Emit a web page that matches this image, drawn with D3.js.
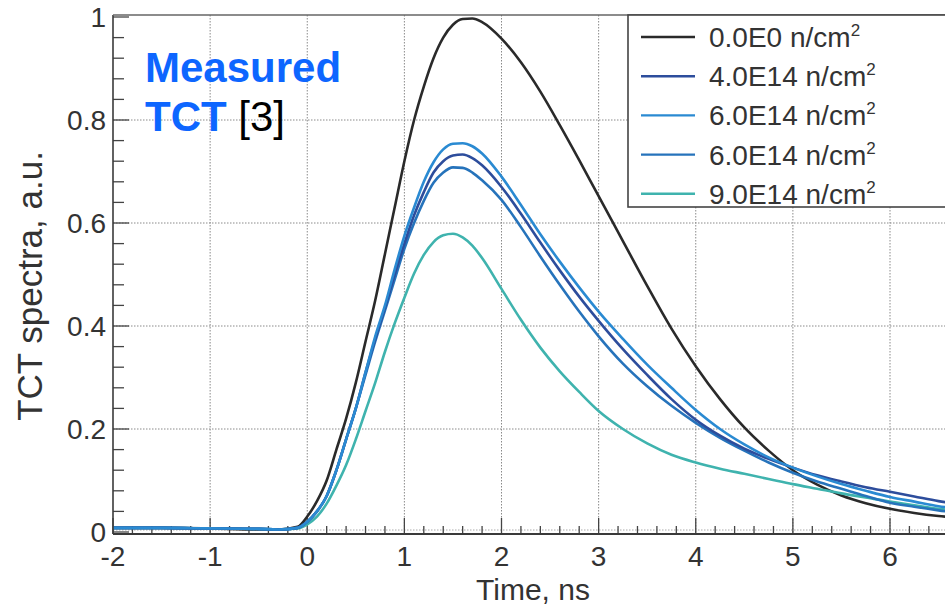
<!DOCTYPE html>
<html>
<head>
<meta charset="utf-8">
<script src="https://cdn.jsdelivr.net/npm/d3@7"></script>
<style>
  body { margin: 0; background: #fff; }
  svg { display: block; font-family: "Liberation Sans", Arial, sans-serif; }
</style>
</head>
<body>
<svg id="chart" width="945" height="606"></svg>
<script>
// time samples (ns)
var time = [-2, -1.5, -1, -0.5, -0.3, -0.1, 0, 0.1, 0.2, 0.3, 0.4, 0.5, 0.6, 0.7, 0.8, 0.9,
  1.0, 1.1, 1.2, 1.3, 1.4, 1.5, 1.6, 1.7, 1.8, 2.0, 2.2, 2.4, 2.6, 2.8, 3.0, 3.25, 3.5, 3.75,
  4.0, 4.25, 4.5, 4.75, 5.0, 5.25, 5.5, 5.75, 6.0, 6.25, 6.5, 6.75];

// one value per time sample
var f0 = [0.008, 0.008, 0.007, 0.005, 0.005, 0.01, 0.03, 0.06, 0.1, 0.16, 0.22, 0.29, 0.37, 0.45, 0.54, 0.63,
  0.72, 0.80, 0.865, 0.92, 0.96, 0.985, 0.996, 0.997, 0.99, 0.958, 0.912, 0.855, 0.79, 0.722, 0.652, 0.565, 0.478, 0.395,
  0.322, 0.258, 0.203, 0.158, 0.12, 0.092, 0.071, 0.056, 0.045, 0.037, 0.031, 0.027];
var f4 = [0.008, 0.008, 0.007, 0.006, 0.005, 0.008, 0.02, 0.04, 0.07, 0.12, 0.18, 0.24, 0.31, 0.375, 0.435, 0.5,
  0.56, 0.615, 0.66, 0.698, 0.72, 0.731, 0.733, 0.726, 0.712, 0.67, 0.618, 0.562, 0.508, 0.457, 0.41, 0.355, 0.305, 0.258,
  0.218, 0.187, 0.162, 0.142, 0.125, 0.11, 0.098, 0.087, 0.078, 0.069, 0.06, 0.053];
var f6a = [0.008, 0.008, 0.007, 0.006, 0.005, 0.008, 0.02, 0.04, 0.07, 0.12, 0.18, 0.24, 0.31, 0.38, 0.44, 0.51,
  0.575, 0.63, 0.68, 0.718, 0.743, 0.754, 0.755, 0.749, 0.735, 0.69, 0.635, 0.578, 0.525, 0.475, 0.428, 0.375, 0.325, 0.28,
  0.237, 0.2, 0.17, 0.145, 0.125, 0.108, 0.093, 0.08, 0.068, 0.059, 0.05, 0.044];
var f6b = [0.008, 0.008, 0.007, 0.006, 0.005, 0.008, 0.02, 0.04, 0.07, 0.12, 0.18, 0.24, 0.305, 0.37, 0.43, 0.49,
  0.55, 0.6, 0.643, 0.678, 0.698, 0.708, 0.707, 0.698, 0.683, 0.645, 0.592, 0.535, 0.48, 0.428, 0.38, 0.327, 0.283, 0.245,
  0.212, 0.183, 0.158, 0.135, 0.115, 0.098, 0.084, 0.07, 0.057, 0.049, 0.042, 0.036];
var f9 = [0.008, 0.008, 0.007, 0.006, 0.005, 0.007, 0.015, 0.03, 0.055, 0.09, 0.13, 0.18, 0.235, 0.29, 0.35, 0.405,
  0.455, 0.502, 0.538, 0.563, 0.576, 0.579, 0.572, 0.556, 0.532, 0.472, 0.412, 0.358, 0.312, 0.272, 0.235, 0.2, 0.172, 0.15,
  0.135, 0.123, 0.113, 0.103, 0.093, 0.084, 0.075, 0.067, 0.059, 0.052, 0.045, 0.04];

var labels = ["0.0E0", "4.0E14", "6.0E14", "6.0E14", "9.0E14"];
var colors = ["#2a2a2a", "#2d4d9c", "#2a8ad2", "#2673bb", "#3fb3ae"];
var values = [f0, f4, f6a, f6b, f9];
// draw order: dark curves first, light blue on top like the scan
var drawOrder = [0, 4, 3, 1, 2];

var xTicks = [-2, -1, 0, 1, 2, 3, 4, 5, 6];
var yTicks = [0, 0.2, 0.4, 0.6, 0.8, 1];

var svg = d3.select("#chart");
var mLeft = 113, mTop = 15, mBottom = 534, mRight = 1000;

var x = d3.scaleLinear().domain([-2, 6]).range([mLeft, 890]);
var y = d3.scaleLinear().domain([0, 1]).range([532, 17]);

svg.append("defs").append("clipPath").attr("id", "plotclip")
  .append("rect").attr("x", mLeft).attr("y", mTop).attr("width", mRight - mLeft).attr("height", mBottom - mTop);

// dotted grid
var grid = svg.append("g").attr("stroke", "#8a8a8a").attr("stroke-width", 1).attr("stroke-dasharray", "1.5,1.5");
grid.selectAll(".vg").data(xTicks.slice(1).concat([7])).enter().append("line")
  .attr("x1", function (d) { return x(d); }).attr("x2", function (d) { return x(d); })
  .attr("y1", mTop).attr("y2", mBottom);
grid.selectAll(".hg").data(yTicks.slice(1, 5)).enter().append("line")
  .attr("x1", mLeft).attr("x2", mRight)
  .attr("y1", function (d) { return y(d); }).attr("y2", function (d) { return y(d); });
grid.append("line").attr("x1", mLeft).attr("x2", mRight).attr("y1", y(0) - 2).attr("y2", y(0) - 2)
  .attr("stroke", "#aaa");

// minor / major ticks drawn inward from the spines
var tk = svg.append("g").attr("stroke", "#444").attr("stroke-width", 1.3);
tk.selectAll(".ymin").data(d3.range(0, 1.001, 0.04)).enter().append("line")
  .attr("x1", mLeft).attr("x2", function (d, i) { return mLeft + (i % 5 === 0 ? 16 : 11); })
  .attr("y1", function (d) { return y(d); }).attr("y2", function (d) { return y(d); });
tk.selectAll(".xmin").data(d3.range(-2, 7.01, 0.2)).enter().append("line")
  .attr("x1", function (d) { return x(d); }).attr("x2", function (d) { return x(d); })
  .attr("y1", mBottom).attr("y2", function (d, i) { return mBottom - (i % 5 === 0 ? 16 : 8); });

// curves
var line = d3.line()
  .x(function (d) { return x(d[0]); })
  .y(function (d) { return y(d[1]); })
  .curve(d3.curveMonotoneX);

svg.append("g").attr("clip-path", "url(#plotclip)")
  .selectAll("path").data(drawOrder).enter().append("path")
  .attr("fill", "none")
  .attr("stroke", function (i) { return colors[i]; })
  .attr("stroke-width", 2.6)
  .attr("stroke-linejoin", "round")
  .attr("d", function (i) { return line(time.map(function (t, k) { return [t, values[i][k]]; })); });

// spines
var sp = svg.append("g").attr("stroke", "#3a3a3a").attr("stroke-width", 1.6).attr("fill", "none");
sp.append("line").attr("x1", mLeft).attr("x2", mLeft).attr("y1", mTop).attr("y2", mBottom);
sp.append("line").attr("x1", mLeft).attr("x2", mRight).attr("y1", mTop).attr("y2", mTop).attr("stroke", "#666");
sp.append("line").attr("x1", mLeft).attr("x2", mRight).attr("y1", mBottom).attr("y2", mBottom).attr("stroke-width", 2);

// tick labels
var fmtY = function (d) { return d === 0 || d === 1 ? String(d) : d.toFixed(1); };
svg.append("g").selectAll("text").data(yTicks).enter().append("text")
  .attr("x", 106).attr("y", function (d) { return y(d); })
  .attr("dy", "0.36em").attr("text-anchor", "end")
  .attr("font-size", 28).attr("fill", "#333")
  .text(fmtY);
svg.append("g").selectAll("text").data(xTicks).enter().append("text")
  .attr("x", function (d) { return x(d); }).attr("y", 566)
  .attr("text-anchor", "middle")
  .attr("font-size", 28).attr("fill", "#333")
  .text(function (d) { return d; });

// axis titles
svg.append("text").attr("x", 533).attr("y", 600).attr("text-anchor", "middle")
  .attr("font-size", 30).attr("fill", "#333").text("Time, ns");
svg.append("text").attr("transform", "translate(42,286) rotate(-90)").attr("text-anchor", "middle")
  .attr("font-size", 35).attr("fill", "#333").text("TCT spectra, a.u.");

// legend
var lg = svg.append("g");
lg.append("rect").attr("x", 628).attr("y", mTop).attr("width", 340).attr("height", 192)
  .attr("fill", "#fff").attr("stroke", "#444").attr("stroke-width", 1.6);
var row = lg.selectAll(".row").data(labels).enter().append("g")
  .attr("transform", function (d, i) { return "translate(0," + (37 + i * 39.2) + ")"; });
row.append("line").attr("x1", 641).attr("x2", 695).attr("y1", 0).attr("y2", 0)
  .attr("stroke", function (d, i) { return colors[i]; }).attr("stroke-width", 2.4);
var lt = row.append("text").attr("x", 709).attr("y", 10).attr("font-size", 28).attr("fill", "#333");
lt.append("tspan").text(function (d) { return d + " n/cm"; });
lt.append("tspan").attr("dy", -11).attr("font-size", 17).text("2");

// annotation
svg.append("text").attr("x", 145).attr("y", 82).attr("font-size", 42).attr("font-weight", "bold")
  .attr("fill", "#0d66ff").text("Measured");
var t2 = svg.append("text").attr("x", 145).attr("y", 131).attr("font-size", 42);
t2.append("tspan").attr("font-weight", "bold").attr("fill", "#0d66ff").text("TCT");
t2.append("tspan").attr("fill", "#000").text(" [3]");
</script>
</body>
</html>
